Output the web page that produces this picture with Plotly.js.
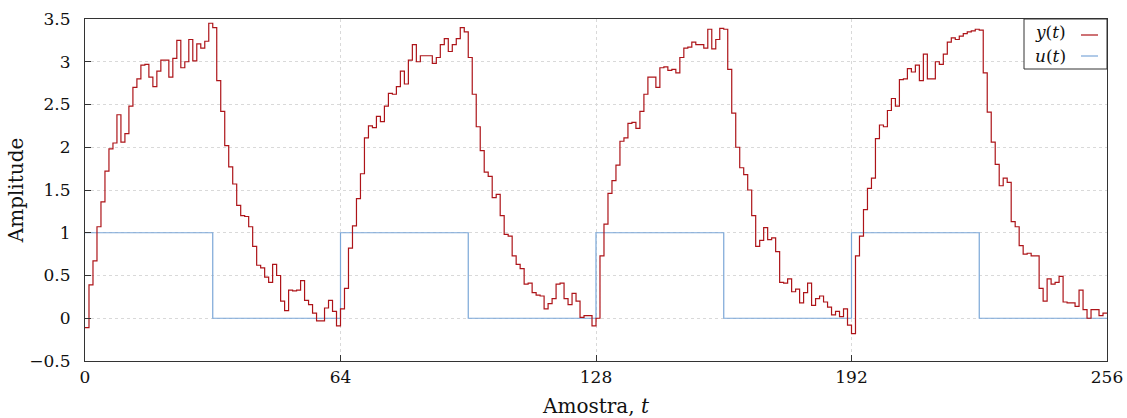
<!DOCTYPE html>
<html>
<head>
<meta charset="utf-8">
<script src="https://cdn.plot.ly/plotly-3.0.1.min.js"></script>
<style>html,body{margin:0;padding:0;background:#fff;}#chart{width:1127px;height:418px;}</style>
</head>
<body>
<div id="chart"></div>
<script>
// Output y(t), one value per sample t = 0..255
var yValues = [
 -0.11, 0.39, 0.67, 1.07, 1.36, 1.72, 1.98, 2.05, 2.38, 2.06,
  2.16, 2.48, 2.70, 2.80, 2.96, 2.97, 2.82, 2.71, 2.89, 3.02,
  3.02, 2.82, 3.04, 3.25, 2.93, 3.00, 3.26, 3.01, 3.21, 3.16,
  3.24, 3.45, 3.40, 2.78, 2.42, 2.02, 1.77, 1.57, 1.32, 1.20,
  1.19, 1.07, 0.84, 0.62, 0.59, 0.48, 0.42, 0.63, 0.50, 0.20,
  0.09, 0.33, 0.32, 0.33, 0.44, 0.21, 0.16, 0.06, -0.03, -0.03,
  0.12, 0.21, 0.08, -0.09, 0.11, 0.35, 0.82, 1.08, 1.40, 1.69,
  2.11, 2.25, 2.23, 2.36, 2.30, 2.48, 2.63, 2.62, 2.71, 2.89,
  2.74, 3.02, 3.20, 3.00, 3.07, 3.07, 3.07, 2.98, 3.05, 3.20,
  3.27, 3.12, 3.20, 3.27, 3.40, 3.35, 3.05, 2.62, 2.24, 1.96,
  1.71, 1.66, 1.41, 1.45, 1.20, 0.98, 0.96, 0.73, 0.63, 0.58,
  0.40, 0.41, 0.30, 0.27, 0.26, 0.11, 0.17, 0.23, 0.40, 0.41,
  0.23, 0.16, 0.29, 0.20, 0.01, 0.03, 0.03, -0.09, 0.00, 0.73,
  1.10, 1.46, 1.61, 1.79, 2.07, 2.11, 2.28, 2.29, 2.22, 2.42,
  2.62, 2.82, 2.82, 2.70, 2.93, 2.94, 2.90, 2.91, 2.87, 3.05,
  3.16, 3.17, 3.23, 3.20, 3.20, 3.16, 3.38, 3.15, 3.26, 3.39,
  3.38, 2.91, 2.40, 2.00, 1.76, 1.68, 1.50, 1.20, 0.84, 0.91,
  1.06, 0.92, 0.94, 0.78, 0.42, 0.41, 0.46, 0.31, 0.34, 0.18,
  0.30, 0.41, 0.15, 0.23, 0.26, 0.19, 0.13, 0.04, 0.08, 0.02,
  0.11, -0.08, -0.18, 0.73, 0.96, 1.27, 1.52, 1.64, 2.10, 2.26,
  2.24, 2.43, 2.57, 2.48, 2.79, 2.80, 2.92, 2.88, 2.96, 2.78,
  3.09, 2.80, 2.80, 3.00, 2.97, 3.09, 3.23, 3.28, 3.26, 3.30,
  3.33, 3.35, 3.36, 3.38, 3.37, 2.87, 2.41, 2.06, 1.80, 1.55,
  1.64, 1.59, 1.13, 1.07, 0.85, 0.75, 0.76, 0.73, 0.73, 0.35,
  0.20, 0.46, 0.40, 0.42, 0.49, 0.19, 0.18, 0.18, 0.14, 0.33,
  0.10, 0.00, 0.10, 0.10, 0.03, 0.06
];
// Input u(t): switching instants and the level held from each one
var uTimes  = [0, 32, 64, 96, 128, 160, 192, 224, 256];
var uLevels = [1, 0, 1, 0, 1, 0, 1, 0, 0];

var xTickVals = [0, 64, 128, 192, 256];
var yTickVals = [-0.5, 0, 0.5, 1, 1.5, 2, 2.5, 3, 3.5];
var legendLabels = ['<i>y</i>(<i>t</i>)', '<i>u</i>(<i>t</i>)'];

var redColor = '#ad1419';
var blueColor = '#7ba7d8';

// sample index axis, last sample held until t = 256
var yT = yValues.map(function (v, i) { return i; });
yT.push(yValues.length);
var yV = yValues.slice();
yV.push(yValues[yValues.length - 1]);

var serif = 'DejaVu Serif, Liberation Serif, serif';

var traces = [
  {x: uTimes, y: uLevels, type: 'scatter', mode: 'lines', line: {shape: 'hv', color: blueColor, width: 1.2}, hoverinfo: 'skip', showlegend: false},
  {x: yT, y: yV, type: 'scatter', mode: 'lines', line: {shape: 'hv', color: redColor, width: 1.2}, hoverinfo: 'skip', showlegend: false}
];

function px2x(p) { return (p - 85) / 1022; }
function px2y(p) { return (361 - p) / 342; }

var layout = {
  width: 1127, height: 418,
  margin: {l: 85, r: 20, t: 19, b: 57, pad: 0},
  paper_bgcolor: '#fff', plot_bgcolor: '#fff',
  font: {family: serif, size: 17, color: '#111'},
  showlegend: false,
  xaxis: {
    range: [0, 256], tickvals: xTickVals, ticktext: xTickVals.map(String),
    ticks: 'inside', ticklen: 6, tickcolor: '#333', tickwidth: 1,
    showline: true, linecolor: '#333', linewidth: 1, mirror: true,
    showgrid: true, gridcolor: '#d9d9d9', griddash: 'dot', gridwidth: 1,
    zeroline: false, ticklabelstandoff: 1,
    tickfont: {family: serif, size: 17},
    title: {text: 'Amostra, <i>t</i>', font: {family: serif, size: 20}, standoff: 12}
  },
  yaxis: {
    range: [-0.5, 3.5], tickvals: yTickVals, ticktext: yTickVals.map(function (v) { return v < 0 ? '\u2212' + Math.abs(v) : String(v); }),
    ticks: 'inside', ticklen: 6, tickcolor: '#333', tickwidth: 1,
    showline: true, linecolor: '#333', linewidth: 1, mirror: true,
    showgrid: true, gridcolor: '#d9d9d9', griddash: 'dot', gridwidth: 1,
    zeroline: false, ticklabelstandoff: 10,
    tickfont: {family: serif, size: 17},
    title: {text: 'Amplitude', font: {family: serif, size: 20}, standoff: 0}
  },
  shapes: [
    {type: 'rect', xref: 'paper', yref: 'paper', x0: px2x(1024), x1: 1, y0: px2y(69), y1: 1, line: {color: '#333', width: 1}, fillcolor: '#fff'},
    {type: 'line', xref: 'paper', yref: 'paper', x0: px2x(1081), x1: px2x(1098), y0: px2y(35), y1: px2y(35), line: {color: redColor, width: 1.2}},
    {type: 'line', xref: 'paper', yref: 'paper', x0: px2x(1081), x1: px2x(1098), y0: px2y(56), y1: px2y(56), line: {color: blueColor, width: 1.2}}
  ],
  annotations: [
    {xref: 'paper', yref: 'paper', x: px2x(1050), y: px2y(32), text: legendLabels[0], showarrow: false, xanchor: 'center', yanchor: 'middle', font: {family: serif, size: 17, color: '#111'}},
    {xref: 'paper', yref: 'paper', x: px2x(1050), y: px2y(56), text: legendLabels[1], showarrow: false, xanchor: 'center', yanchor: 'middle', font: {family: serif, size: 17, color: '#111'}}
  ]
};

Plotly.newPlot('chart', traces, layout, {staticPlot: true, displayModeBar: false});
</script>
</body>
</html>
